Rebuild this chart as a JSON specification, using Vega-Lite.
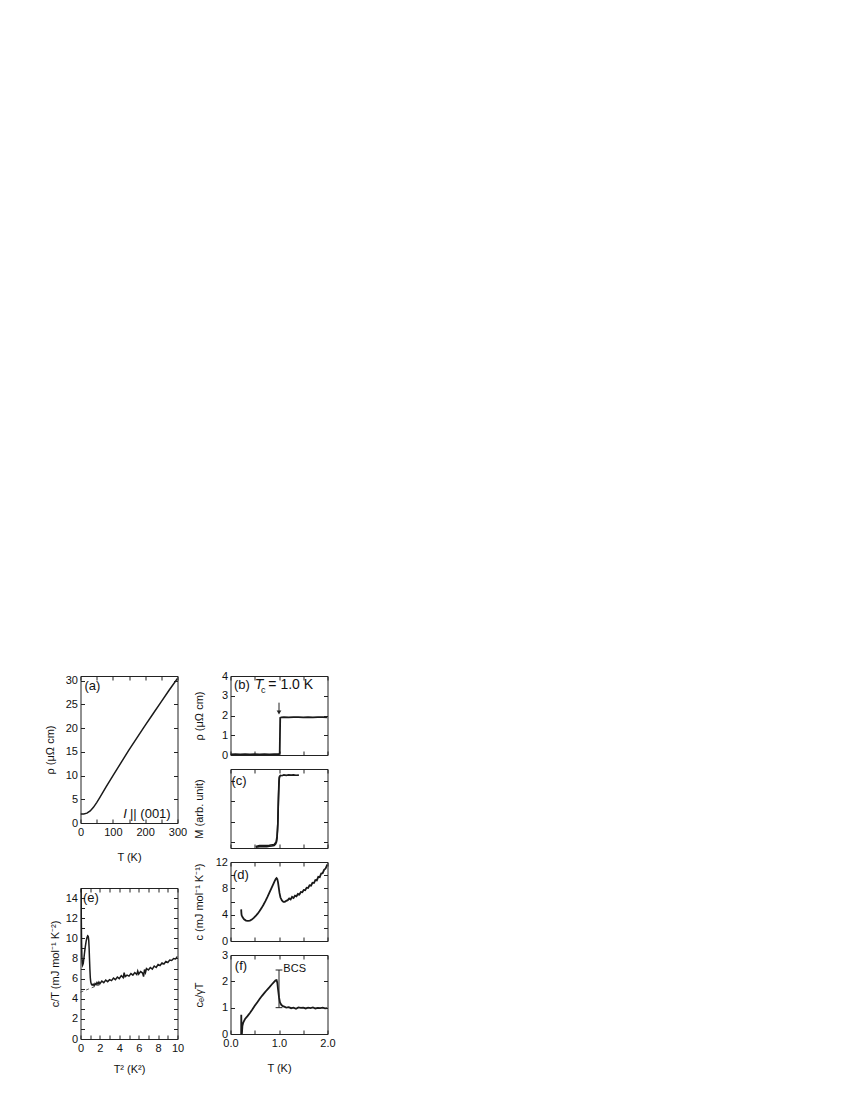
{
"$schema":"https://vega.github.io/schema/vega-lite/v6.json",
"background":"white",
"padding":{"left":43.5,"top":669,"right":5,"bottom":5},
"config":{
 "view":{"stroke":"#222","strokeWidth":1},
 "axis":{"domain":false,"grid":false,"tickColor":"#222","tickSize":-4,"tickWidth":1,"labelFont":"Liberation Sans","labelFontSize":11,"labelColor":"#111","labelPadding":7,"labelFlush":false,"labelOverlap":false,"titleFont":"Liberation Sans","titleFontSize":11,"titleFontWeight":"normal","titleColor":"#111"},
 "line":{"color":"#1a1a1a","strokeWidth":1.5},
 "text":{"font":"Liberation Sans","color":"#111"}
},
"datasets":{
 "a":[{"T":0,"v":1.9},{"T":10,"v":1.92},{"T":20,"v":2.08},{"T":30,"v":2.55},{"T":40,"v":3.3},{"T":50,"v":4.3},{"T":60,"v":5.4},{"T":70,"v":6.55},{"T":80,"v":7.7},{"T":90,"v":8.85},{"T":100,"v":9.95},{"T":125,"v":12.7},{"T":150,"v":15.4},{"T":175,"v":18.0},{"T":200,"v":20.6},{"T":225,"v":23.1},{"T":250,"v":25.6},{"T":275,"v":28.1},{"T":300,"v":30.5}],
 "b":[{"T":0,"v":0.03},{"T":0.1,"v":0.04},{"T":0.2,"v":0.03},{"T":0.3,"v":0.04},{"T":0.4,"v":0.03},{"T":0.5,"v":0.04},{"T":0.6,"v":0.03},{"T":0.7,"v":0.04},{"T":0.8,"v":0.03},{"T":0.9,"v":0.04},{"T":1.0,"v":0.04},{"T":1.015,"v":0.1},{"T":1.02,"v":1.0},{"T":1.025,"v":1.88},{"T":1.05,"v":1.91},{"T":1.1,"v":1.92},{"T":1.2,"v":1.91},{"T":1.3,"v":1.92},{"T":1.4,"v":1.92},{"T":1.5,"v":1.91},{"T":1.6,"v":1.92},{"T":1.7,"v":1.91},{"T":1.8,"v":1.92},{"T":1.9,"v":1.92},{"T":2.0,"v":1.91}],
 "c":[{"s":1,"T":0.53,"v":0.12},{"s":1,"T":0.54,"v":0.05},{"s":1,"T":0.6,"v":0.07},{"s":1,"T":0.65,"v":0.06},{"s":1,"T":0.7,"v":0.08},{"s":1,"T":0.75,"v":0.07},{"s":1,"T":0.8,"v":0.09},{"s":1,"T":0.85,"v":0.1},{"s":1,"T":0.9,"v":0.13},{"s":1,"T":0.93,"v":0.2},{"s":1,"T":0.95,"v":0.32},{"s":1,"T":0.96,"v":0.5},{"s":1,"T":0.97,"v":0.9},{"s":1,"T":0.98,"v":1.6},{"s":1,"T":0.99,"v":2.6},{"s":1,"T":1.0,"v":3.3},{"s":1,"T":1.01,"v":3.62},{"s":1,"T":1.03,"v":3.68},{"s":1,"T":1.06,"v":3.66},{"s":1,"T":1.1,"v":3.7},{"s":1,"T":1.15,"v":3.68},{"s":1,"T":1.2,"v":3.7},{"s":1,"T":1.25,"v":3.69},{"s":1,"T":1.3,"v":3.7},{"s":1,"T":1.35,"v":3.68},{"s":1,"T":1.41,"v":3.69},
  {"s":2,"T":0.55,"v":0.1},{"s":2,"T":0.6,"v":0.12},{"s":2,"T":0.7,"v":0.13},{"s":2,"T":0.8,"v":0.14},{"s":2,"T":0.9,"v":0.18},{"s":2,"T":0.94,"v":0.3},{"s":2,"T":0.96,"v":0.6},{"s":2,"T":0.975,"v":1.2},{"s":2,"T":0.985,"v":2.2},{"s":2,"T":0.995,"v":3.1},{"s":2,"T":1.005,"v":3.55},{"s":2,"T":1.02,"v":3.66}],
 "d":[{"T":0.22,"v":4.8},{"T":0.225,"v":4.2},{"T":0.23,"v":3.9},{"T":0.25,"v":3.6},{"T":0.28,"v":3.3},{"T":0.32,"v":3.1},{"T":0.36,"v":3.05},{"T":0.4,"v":3.1},{"T":0.44,"v":3.25},{"T":0.48,"v":3.5},{"T":0.52,"v":3.8},{"T":0.56,"v":4.15},{"T":0.6,"v":4.55},{"T":0.64,"v":5.0},{"T":0.68,"v":5.5},{"T":0.72,"v":6.05},{"T":0.76,"v":6.65},{"T":0.8,"v":7.3},{"T":0.84,"v":7.95},{"T":0.88,"v":8.6},{"T":0.91,"v":9.1},{"T":0.935,"v":9.45},{"T":0.95,"v":9.55},{"T":0.965,"v":9.4},{"T":0.98,"v":8.9},{"T":0.995,"v":8.1},{"T":1.01,"v":7.3},{"T":1.03,"v":6.6},{"T":1.06,"v":6.15},{"T":1.09,"v":5.95},{"T":1.12,"v":5.95},{"T":1.15,"v":6.1},{"T":1.18,"v":6.2},{"T":1.21,"v":6.45},{"T":1.24,"v":6.3},{"T":1.27,"v":6.7},{"T":1.3,"v":6.55},{"T":1.33,"v":6.9},{"T":1.36,"v":6.8},{"T":1.39,"v":7.15},{"T":1.42,"v":7.05},{"T":1.45,"v":7.45},{"T":1.48,"v":7.4},{"T":1.51,"v":7.75},{"T":1.54,"v":7.7},{"T":1.57,"v":8.1},{"T":1.6,"v":8.05},{"T":1.63,"v":8.45},{"T":1.66,"v":8.4},{"T":1.69,"v":8.85},{"T":1.72,"v":8.8},{"T":1.75,"v":9.25},{"T":1.78,"v":9.2},{"T":1.81,"v":9.75},{"T":1.84,"v":9.7},{"T":1.87,"v":10.25},{"T":1.9,"v":10.3},{"T":1.93,"v":10.8},{"T":1.96,"v":11.0},{"T":1.99,"v":11.5},{"T":2.0,"v":11.6}],
 "e":[{"T2":0.04,"v":22},{"T2":0.06,"v":15.5},{"T2":0.08,"v":12.2},{"T2":0.11,"v":9.6},{"T2":0.14,"v":8.3},{"T2":0.18,"v":7.6},{"T2":0.22,"v":7.35},{"T2":0.28,"v":7.5},{"T2":0.35,"v":8.0},{"T2":0.42,"v":8.6},{"T2":0.5,"v":9.2},{"T2":0.58,"v":9.7},{"T2":0.66,"v":10.05},{"T2":0.74,"v":10.25},{"T2":0.8,"v":10.2},{"T2":0.85,"v":9.8},{"T2":0.89,"v":9.0},{"T2":0.93,"v":7.9},{"T2":0.97,"v":6.9},{"T2":1.01,"v":6.1},{"T2":1.06,"v":5.65},{"T2":1.12,"v":5.45},{"T2":1.2,"v":5.35},{"T2":1.3,"v":5.45},{"T2":1.4,"v":5.3},{"T2":1.5,"v":5.5},{"T2":1.6,"v":5.4},{"T2":1.7,"v":5.6},{"T2":1.8,"v":5.45},{"T2":1.9,"v":5.65},{"T2":2.0,"v":5.5},{"T2":2.2,"v":5.75},{"T2":2.4,"v":5.6},{"T2":2.6,"v":5.85},{"T2":2.8,"v":5.7},{"T2":3.0,"v":5.9},{"T2":3.2,"v":5.8},{"T2":3.4,"v":6.05},{"T2":3.6,"v":5.9},{"T2":3.8,"v":6.15},{"T2":4.0,"v":6.0},{"T2":4.2,"v":6.3},{"T2":4.4,"v":6.1},{"T2":4.5,"v":6.6},{"T2":4.6,"v":6.2},{"T2":4.8,"v":6.35},{"T2":5.0,"v":6.25},{"T2":5.2,"v":6.5},{"T2":5.4,"v":6.35},{"T2":5.6,"v":6.6},{"T2":5.8,"v":6.4},{"T2":5.9,"v":6.75},{"T2":6.0,"v":6.45},{"T2":6.2,"v":6.7},{"T2":6.4,"v":6.55},{"T2":6.5,"v":6.2},{"T2":6.6,"v":6.9},{"T2":6.7,"v":6.6},{"T2":6.8,"v":7.0},{"T2":7.0,"v":6.85},{"T2":7.2,"v":7.1},{"T2":7.4,"v":6.95},{"T2":7.6,"v":7.25},{"T2":7.8,"v":7.1},{"T2":8.0,"v":7.4},{"T2":8.2,"v":7.3},{"T2":8.4,"v":7.55},{"T2":8.6,"v":7.45},{"T2":8.8,"v":7.7},{"T2":9.0,"v":7.6},{"T2":9.2,"v":7.85},{"T2":9.4,"v":7.8},{"T2":9.6,"v":8.0},{"T2":9.8,"v":7.95},{"T2":10.0,"v":8.2}],
 "edash":[{"T2":0,"v":4.65},{"T2":2.2,"v":5.48}],
 "f":[{"T":0.22,"v":0},{"T":0.222,"v":0.73},{"T":0.226,"v":0.25},{"T":0.235,"v":0},{"T":0.245,"v":0.3},{"T":0.26,"v":0.42},{"T":0.28,"v":0.5},{"T":0.3,"v":0.57},{"T":0.35,"v":0.68},{"T":0.4,"v":0.8},{"T":0.45,"v":0.93},{"T":0.5,"v":1.07},{"T":0.55,"v":1.2},{"T":0.6,"v":1.33},{"T":0.65,"v":1.45},{"T":0.7,"v":1.56},{"T":0.75,"v":1.67},{"T":0.8,"v":1.77},{"T":0.85,"v":1.88},{"T":0.9,"v":1.98},{"T":0.93,"v":2.04},{"T":0.95,"v":2.05},{"T":0.965,"v":1.95},{"T":0.98,"v":1.7},{"T":1.0,"v":1.4},{"T":1.02,"v":1.2},{"T":1.05,"v":1.1},{"T":1.08,"v":1.06},{"T":1.12,"v":1.03},{"T":1.15,"v":1.0},{"T":1.2,"v":1.02},{"T":1.25,"v":0.98},{"T":1.3,"v":1.0},{"T":1.35,"v":0.96},{"T":1.4,"v":1.01},{"T":1.45,"v":0.99},{"T":1.5,"v":1.0},{"T":1.55,"v":0.97},{"T":1.6,"v":1.0},{"T":1.65,"v":0.98},{"T":1.7,"v":1.01},{"T":1.75,"v":0.97},{"T":1.8,"v":0.99},{"T":1.85,"v":0.98},{"T":1.9,"v":1.0},{"T":1.95,"v":0.97},{"T":2.0,"v":0.98}]
},
"hconcat":[
 {"vconcat":[
  {"width":97,"height":147,
   "layer":[
    {"data":{"name":"a"},"mark":{"type":"line","clip":true},
     "encoding":{"x":{"field":"T","type":"quantitative","scale":{"domain":[0,300],"nice":false},"axis":{"orient":"bottom","values":[0,50,100,150,200,250,300],"labelExpr":"datum.value % 100 == 0 ? datum.label : ''","title":"T (K)","titleY":34,"titleBaseline":"middle"}},
      "y":{"field":"v","type":"quantitative","scale":{"domain":[0,31],"nice":false},"axis":{"orient":"left","values":[0,5,10,15,20,25,30],"title":"ρ (μΩ cm)","titleX":-30,"titleBaseline":"middle"}}}},
    {"data":{"name":"a"},"mark":{"type":"point","opacity":0},
     "encoding":{"x":{"field":"T","type":"quantitative","scale":{"domain":[0,300],"nice":false},"axis":{"orient":"top","values":[0,50,100,150,200,250,300],"labels":false,"title":null}},
      "y":{"field":"v","type":"quantitative","scale":{"domain":[0,31],"nice":false},"axis":{"orient":"right","values":[0,5,10,15,20,25,30],"labels":false,"title":null}}}},
    {"data":{"values":[{"x":12,"y":28.8,"t":"(a)"},{"x":153,"y":1.8,"t":"|| (001)"}]},"mark":{"type":"text","align":"left","baseline":"middle","fontSize":13},
     "encoding":{"x":{"field":"x","type":"quantitative","scale":{"domain":[0,300],"nice":false},"axis":null},"y":{"field":"y","type":"quantitative","scale":{"domain":[0,31],"nice":false},"axis":null},"text":{"field":"t"}}},
    {"data":{"values":[{"x":132,"y":1.8,"t":"I"}]},"mark":{"type":"text","align":"left","baseline":"middle","fontSize":13,"fontStyle":"italic"},
     "encoding":{"x":{"field":"x","type":"quantitative","scale":{"domain":[0,300],"nice":false},"axis":null},"y":{"field":"y","type":"quantitative","scale":{"domain":[0,31],"nice":false},"axis":null},"text":{"field":"t"}}}
   ],
   "resolve":{"axis":{"x":"independent","y":"independent"}}},
  {"width":97,"height":151,
   "layer":[
    {"data":{"name":"e"},"mark":{"type":"line","clip":true},
     "encoding":{"x":{"field":"T2","type":"quantitative","scale":{"domain":[0,10],"nice":false},"axis":{"orient":"bottom","values":[0,1,2,3,4,5,6,7,8,9,10],"labelExpr":"datum.value % 2 == 0 ? datum.label : ''","title":"T² (K²)","titleY":30,"titleBaseline":"middle"}},
      "y":{"field":"v","type":"quantitative","scale":{"domain":[0,15],"nice":false},"axis":{"orient":"left","values":[0,1,2,3,4,5,6,7,8,9,10,11,12,13,14],"labelExpr":"datum.value % 2 == 0 ? datum.label : ''","title":"c/T (mJ mol⁻¹ K⁻²)","titleX":-25,"titleBaseline":"middle"}}}},
    {"data":{"name":"edash"},"mark":{"type":"line","strokeDash":[3,3],"strokeWidth":0.8,"color":"#333"},
     "encoding":{"x":{"field":"T2","type":"quantitative","scale":{"domain":[0,10],"nice":false},"axis":{"orient":"top","values":[0,1,2,3,4,5,6,7,8,9,10],"labels":false,"title":null}},
      "y":{"field":"v","type":"quantitative","scale":{"domain":[0,15],"nice":false},"axis":{"orient":"right","values":[0,1,2,3,4,5,6,7,8,9,10,11,12,13,14],"labels":false,"title":null}}}},
    {"data":{"values":[{"x":0.25,"y":14,"t":"(e)"}]},"mark":{"type":"text","align":"left","baseline":"middle","fontSize":13},
     "encoding":{"x":{"field":"x","type":"quantitative","scale":{"domain":[0,10],"nice":false},"axis":null},"y":{"field":"y","type":"quantitative","scale":{"domain":[0,15],"nice":false},"axis":null},"text":{"field":"t"}}}
   ],
   "resolve":{"axis":{"x":"independent","y":"independent"}}}
 ],"spacing":65,"bounds":"flush"},
 {"vconcat":[
  {"width":97,"height":79,
   "layer":[
    {"data":{"name":"b"},"mark":{"type":"line","clip":true,"strokeWidth":1.8},
     "encoding":{"x":{"field":"T","type":"quantitative","scale":{"domain":[0,2],"nice":false},"axis":{"orient":"bottom","values":[0,0.5,1,1.5,2],"labels":false,"title":null}},
      "y":{"field":"v","type":"quantitative","scale":{"domain":[0,4],"nice":false},"axis":{"orient":"left","values":[0,1,2,3,4],"title":"ρ (μΩ cm)","titleX":-31,"titleBaseline":"middle"}}}},
    {"data":{"name":"b"},"mark":{"type":"point","opacity":0},
     "encoding":{"x":{"field":"T","type":"quantitative","scale":{"domain":[0,2],"nice":false},"axis":{"orient":"top","values":[0,0.5,1,1.5,2],"labels":false,"title":null}},
      "y":{"field":"v","type":"quantitative","scale":{"domain":[0,4],"nice":false},"axis":{"orient":"right","values":[0,1,2,3,4],"labels":false,"title":null}}}},
    {"data":{"values":[{"x":0.07,"y":3.55,"t":"(b)"}]},"mark":{"type":"text","align":"left","baseline":"middle","fontSize":13},
     "encoding":{"x":{"field":"x","type":"quantitative","scale":{"domain":[0,2],"nice":false},"axis":null},"y":{"field":"y","type":"quantitative","scale":{"domain":[0,4],"nice":false},"axis":null},"text":{"field":"t"}}},
    {"data":{"values":[{"x":0.78,"y":3.55,"t":"= 1.0 K"}]},"mark":{"type":"text","align":"left","baseline":"middle","fontSize":14},
     "encoding":{"x":{"field":"x","type":"quantitative","scale":{"domain":[0,2],"nice":false},"axis":null},"y":{"field":"y","type":"quantitative","scale":{"domain":[0,4],"nice":false},"axis":null},"text":{"field":"t"}}},
    {"data":{"values":[{"x":0.5,"y":3.55,"t":"T"}]},"mark":{"type":"text","align":"left","baseline":"middle","fontSize":14,"fontStyle":"italic"},
     "encoding":{"x":{"field":"x","type":"quantitative","scale":{"domain":[0,2],"nice":false},"axis":null},"y":{"field":"y","type":"quantitative","scale":{"domain":[0,4],"nice":false},"axis":null},"text":{"field":"t"}}},
    {"data":{"values":[{"x":0.63,"y":3.3,"t":"c"}]},"mark":{"type":"text","align":"left","baseline":"middle","fontSize":9},
     "encoding":{"x":{"field":"x","type":"quantitative","scale":{"domain":[0,2],"nice":false},"axis":null},"y":{"field":"y","type":"quantitative","scale":{"domain":[0,4],"nice":false},"axis":null},"text":{"field":"t"}}},
    {"data":{"values":[{"x":1.0,"y":2.65,"y2":2.2}]},"mark":{"type":"rule","color":"#222","strokeWidth":1},
     "encoding":{"x":{"field":"x","type":"quantitative","scale":{"domain":[0,2],"nice":false},"axis":null},"y":{"field":"y","type":"quantitative","scale":{"domain":[0,4],"nice":false},"axis":null},"y2":{"field":"y2"}}},
    {"data":{"values":[{"x":1.0,"y":2.15}]},"mark":{"type":"point","shape":"triangle-down","filled":true,"color":"#222","size":22,"opacity":1},
     "encoding":{"x":{"field":"x","type":"quantitative","scale":{"domain":[0,2],"nice":false},"axis":null},"y":{"field":"y","type":"quantitative","scale":{"domain":[0,4],"nice":false},"axis":null}}}
   ],
   "resolve":{"axis":{"x":"independent","y":"independent"}}},
  {"width":97,"height":79,
   "layer":[
    {"data":{"name":"c"},"mark":{"type":"line","clip":true,"strokeWidth":1.6},
     "encoding":{"detail":{"field":"s","type":"nominal"},"x":{"field":"T","type":"quantitative","scale":{"domain":[0,2],"nice":false},"axis":{"orient":"bottom","values":[0,0.5,1,1.5,2],"labels":false,"title":null}},
      "y":{"field":"v","type":"quantitative","scale":{"domain":[0,4],"nice":false},"axis":{"orient":"left","values":[0.3,1.33,2.36,3.39],"labels":false,"title":"M (arb. unit)","titleX":-31,"titleBaseline":"middle"}}}},
    {"data":{"name":"c"},"mark":{"type":"point","opacity":0},
     "encoding":{"x":{"field":"T","type":"quantitative","scale":{"domain":[0,2],"nice":false},"axis":{"orient":"top","values":[0,0.5,1,1.5,2],"labels":false,"title":null}},
      "y":{"field":"v","type":"quantitative","scale":{"domain":[0,4],"nice":false},"axis":{"orient":"right","values":[0.3,1.33,2.36,3.39],"labels":false,"title":null}}}},
    {"data":{"values":[{"x":0.02,"y":3.4,"t":"(c)"}]},"mark":{"type":"text","align":"left","baseline":"middle","fontSize":13},
     "encoding":{"x":{"field":"x","type":"quantitative","scale":{"domain":[0,2],"nice":false},"axis":null},"y":{"field":"y","type":"quantitative","scale":{"domain":[0,4],"nice":false},"axis":null},"text":{"field":"t"}}}
   ],
   "resolve":{"axis":{"x":"independent","y":"independent"}}},
  {"width":97,"height":79,
   "layer":[
    {"data":{"name":"d"},"mark":{"type":"line","clip":true,"strokeWidth":1.8},
     "encoding":{"x":{"field":"T","type":"quantitative","scale":{"domain":[0,2],"nice":false},"axis":{"orient":"bottom","values":[0,0.5,1,1.5,2],"labels":false,"title":null}},
      "y":{"field":"v","type":"quantitative","scale":{"domain":[0,12],"nice":false},"axis":{"orient":"left","values":[0,2,4,6,8,10,12],"labelExpr":"datum.value % 4 == 0 ? datum.label : ''","title":"c (mJ mol⁻¹ K⁻¹)","titleX":-31,"titleBaseline":"middle"}}}},
    {"data":{"name":"d"},"mark":{"type":"point","opacity":0},
     "encoding":{"x":{"field":"T","type":"quantitative","scale":{"domain":[0,2],"nice":false},"axis":{"orient":"top","values":[0,0.5,1,1.5,2],"labels":false,"title":null}},
      "y":{"field":"v","type":"quantitative","scale":{"domain":[0,12],"nice":false},"axis":{"orient":"right","values":[0,2,4,6,8,10,12],"labels":false,"title":null}}}},
    {"data":{"values":[{"x":0.05,"y":10.1,"t":"(d)"}]},"mark":{"type":"text","align":"left","baseline":"middle","fontSize":13},
     "encoding":{"x":{"field":"x","type":"quantitative","scale":{"domain":[0,2],"nice":false},"axis":null},"y":{"field":"y","type":"quantitative","scale":{"domain":[0,12],"nice":false},"axis":null},"text":{"field":"t"}}}
   ],
   "resolve":{"axis":{"x":"independent","y":"independent"}}},
  {"width":97,"height":79,
   "layer":[
    {"data":{"name":"f"},"mark":{"type":"line","clip":true,"strokeWidth":1.8},
     "encoding":{"x":{"field":"T","type":"quantitative","scale":{"domain":[0,2],"nice":false},"axis":{"orient":"bottom","values":[0,0.5,1,1.5,2],"labelExpr":"datum.value % 1 == 0 ? format(datum.value, '.1f') : ''","title":"T (K)","titleY":34,"titleBaseline":"middle"}},
      "y":{"field":"v","type":"quantitative","scale":{"domain":[0,3],"nice":false},"axis":{"orient":"left","values":[0,1,2,3],"title":"cₑ/γT","titleX":-31,"titleBaseline":"middle"}}}},
    {"data":{"name":"f"},"mark":{"type":"point","opacity":0},
     "encoding":{"x":{"field":"T","type":"quantitative","scale":{"domain":[0,2],"nice":false},"axis":{"orient":"top","values":[0,0.5,1,1.5,2],"labels":false,"title":null}},
      "y":{"field":"v","type":"quantitative","scale":{"domain":[0,3],"nice":false},"axis":{"orient":"right","values":[0,1,2,3],"labels":false,"title":null}}}},
    {"data":{"values":[{"x":1.0,"y":1.0,"y2":2.43}]},"mark":{"type":"rule","color":"#222","strokeWidth":1},
     "encoding":{"x":{"field":"x","type":"quantitative","scale":{"domain":[0,2],"nice":false},"axis":null},"y":{"field":"y","type":"quantitative","scale":{"domain":[0,3],"nice":false},"axis":null},"y2":{"field":"y2"}}},
    {"data":{"values":[{"x":0.93,"x2":1.07,"y":2.43},{"x":0.93,"x2":1.07,"y":1.0}]},"mark":{"type":"rule","color":"#222","strokeWidth":1},
     "encoding":{"x":{"field":"x","type":"quantitative","scale":{"domain":[0,2],"nice":false},"axis":null},"x2":{"field":"x2"},"y":{"field":"y","type":"quantitative","scale":{"domain":[0,3],"nice":false},"axis":null}}},
    {"data":{"values":[{"x":0.09,"y":2.6,"t":"(f)","fs":13},{"x":1.09,"y":2.47,"t":"BCS","fs":11}]},"mark":{"type":"text","align":"left","baseline":"middle"},
     "encoding":{"x":{"field":"x","type":"quantitative","scale":{"domain":[0,2],"nice":false},"axis":null},"y":{"field":"y","type":"quantitative","scale":{"domain":[0,3],"nice":false},"axis":null},"text":{"field":"t"},"size":{"field":"fs","type":"quantitative","scale":null}}}
   ],
   "resolve":{"axis":{"x":"independent","y":"independent"}}}
 ],"spacing":14,"bounds":"flush"}
],
"spacing":150,
"bounds":"flush"
}
